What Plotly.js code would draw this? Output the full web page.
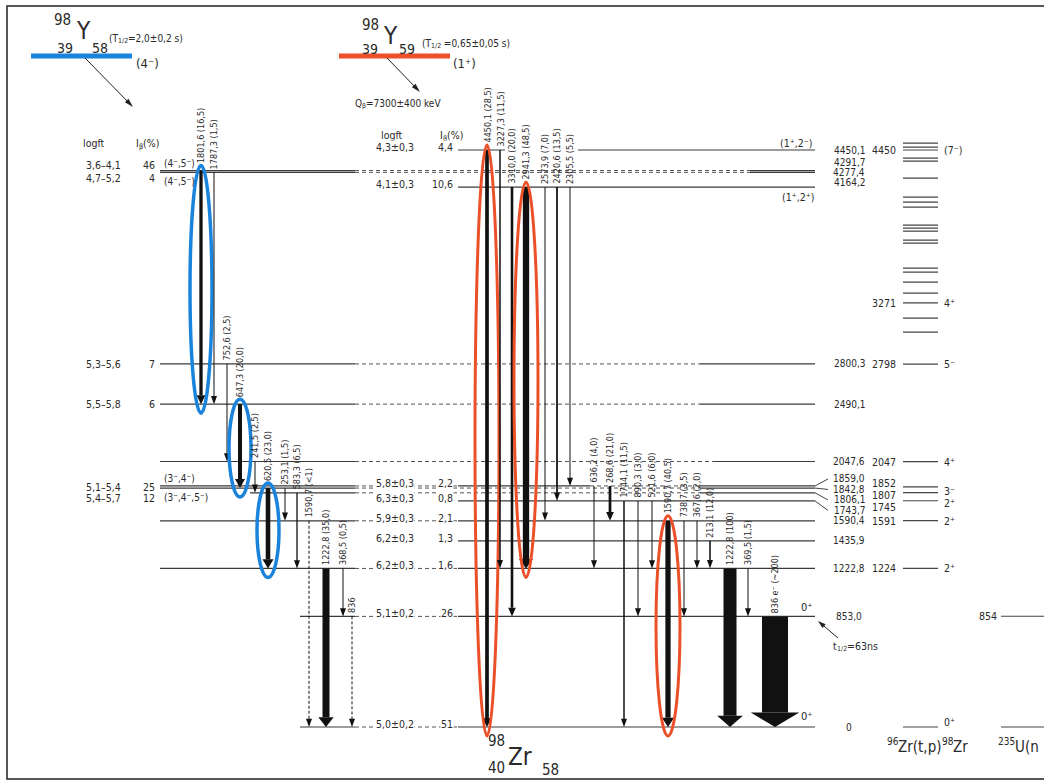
<!DOCTYPE html>
<html><head><meta charset="utf-8">
<script src="https://cdn.plot.ly/plotly-3.0.1.min.js"></script>
<style>html,body{margin:0;padding:0;background:#fff;}#chart{width:1044px;height:783px;}</style>
</head><body><div id="chart"></div>
<script>
// ================= DATA =================
// 98Zr levels (keV) and their labels
const levelEnergy = [0, 853.0, 1222.8, 1435.9, 1590.4, 1743.7, 1806.1, 1842.8, 1859.0, 2047.6, 2490.1, 2800.3, 4164.2, 4277.4, 4291.7, 4450.1];
const levelLabel  = ['0','853,0','1222,8','1435,9','1590,4','1743,7','1806,1','1842,8','1859,0','2047,6','2490,1','2800,3','4164,2','4277,4','4291,7','4450,1'];

// beta feeding from 98Y (4-), T1/2 = 2,0 s
const feed4Level = [4291.7, 4277.4, 2800.3, 2490.1, 1859.0, 1842.8];
const feed4LogFt = ['3,6–4,1','4,7–5,2','5,3–5,6','5,5–5,8','5,1–5,4','5,4–5,7'];
const feed4Ib    = ['46','4','7','6','25','12'];

// beta feeding from 98Y (1+), T1/2 = 0,65 s
const feed1Level = [4450.1, 4164.2, 1859.0, 1743.7, 1590.4, 1435.9, 1222.8, 853.0, 0];
const feed1LogFt = ['4,3±0,3','4,1±0,3','5,8±0,3','6,3±0,3','5,9±0,3','6,2±0,3','6,2±0,3','5,1±0,2','5,0±0,2'];
const feed1Ib    = ['4,4','10,6','2,2','0,8','2,1','1,3','1,6','26','51'];

// gamma transitions following 98Y (4-) decay
const g4Energy = ['1801,6','1787,3','752,6','647,3','241,5','620,5','253,1','583,3','1590,7','1222,8','368,5','836'];
const g4IntTxt = ['(16,5)','(1,5)','(2,5)','(20,0)','(2,5)','(23,0)','(1,5)','(6,5)','(<1)','(35,0)','(0,5)',''];
const g4Int    = [16.5, 1.5, 2.5, 20.0, 2.5, 23.0, 1.5, 6.5, 0.5, 35.0, 0.5, 0.5];
const g4From   = [4291.7, 4277.4, 2800.3, 2490.1, 2047.6, 1842.8, 1842.8, 1806.1, 1590.4, 1222.8, 1222.8, 853.0];
const g4To     = [2490.1, 2490.1, 2047.6, 1842.8, 1806.1, 1222.8, 1590.4, 1222.8, 0, 0, 853.0, 0];
const g4Tentative = [0,0,0,0,0,0,0,0,1,0,0,1];

// gamma transitions following 98Y (1+) decay
const g1Energy = ['4450,1','3227,3','3310,0','2941,3','2573,9','2420,6','2305,5','636,2','268,6','1744,1','890,3','521,6','1590,7','738,7','367,6','213,1','1222,8','369,5','836 e⁻'];
const g1IntTxt = ['(28,5)','(11,5)','(20,0)','(48,5)','(7,0)','(13,5)','(5,5)','(4,0)','(21,0)','(11,5)','(3,0)','(6,0)','(40,5)','(3,5)','(2,0)','(12,0)','(100)','(1,5)','(~200)'];
const g1Int    = [28.5, 11.5, 20.0, 48.5, 7.0, 13.5, 5.5, 4.0, 21.0, 11.5, 3.0, 6.0, 40.5, 3.5, 2.0, 12.0, 100, 1.5, 200];
const g1From   = [4450.1, 4450.1, 4164.2, 4164.2, 4164.2, 4164.2, 4164.2, 1859.0, 1859.0, 1743.7, 1743.7, 1743.7, 1590.4, 1590.4, 1590.4, 1435.9, 1222.8, 1222.8, 853.0];
const g1To     = [0, 1222.8, 853.0, 1222.8, 1590.4, 1743.7, 1859.0, 1222.8, 1590.4, 0, 853.0, 1222.8, 0, 853.0, 1222.8, 1222.8, 0, 853.0, 0];

// highlighted transitions
const blueMarked = ['1801,6','647,3','620,5'];
const redMarked  = ['4450,1','2941,3','1590,7'];

// 96Zr(t,p)98Zr levels
const tpEnergy = [0, 1224, 1591, 1745, 1807, 1852, 2047, 2798, 3045, 3153, 3271, 3346, 3431, 3508, 3539, 3732, 3755, 3824, 3847, 3870, 4009, 4048, 4086, 4233, 4364, 4387, 4450, 4472, 4503];
const tpLabel  = ['', '1224', '1591', '1745', '1807', '1852', '2047', '2798', '', '', '3271', '', '', '', '', '', '', '', '', '', '', '', '', '', '', '', '4450', '', ''];
const tpSpin   = ['0⁺', '2⁺', '2⁺', '', '2⁺', '3⁻', '4⁺', '5⁻', '', '', '4⁺', '', '', '', '', '', '', '', '', '', '', '', '', '', '', '', '(7⁻)', '', ''];
// 235U(n,f) column
const unfEnergy = [0, 854];
const unfLabel  = ['', '854'];

// ================= LAYOUT HELPERS =================
const K = 0.12966, Y0PX = 727;           // drawing scale: px per keV, pixel row of ground state
const eOf = px => (Y0PX - px) / K;         // pixel row -> energy
const dE  = px => px / K;                  // pixel distance -> energy span
const pyOf = e => Y0PX - e * K;            // energy -> pixel row
const FAM = 'DejaVu Sans Condensed';
const FONT = FAM + ', Liberation Sans Narrow, sans-serif';
const INK = '#2a2a2a';

// level line segments [x0, x1, solid?] aligned with levelEnergy
const levelSegs = [
  [[300,355,1],[355,458,0],[458,815,1]],
  [[300,355,1],[355,458,0],[458,815,1]],
  [[160,355,1],[355,458,0],[458,815,1]],
  [[458,815,1]],
  [[160,355,1],[355,458,0],[458,815,1]],
  [[458,815,1]],
  [[250,355,1],[355,700,0],[700,815,1]],
  [[160,355,1],[355,700,0],[700,815,1]],
  [[160,355,1],[355,458,0],[458,590,1],[590,700,0],[700,815,1]],
  [[160,355,1],[355,715,0],[715,815,1]],
  [[160,355,1],[355,700,0],[700,815,1]],
  [[160,355,1],[355,700,0],[700,815,1]],
  [[458,815,1]],
  [[160,355,1],[355,750,0],[750,815,1]],
  [[160,355,1],[355,750,0],[750,815,1]],
  [[458,505,1],[578,815,1]]
];
const g4X = [201,214,227,240,255,268,285,297,309,326,343,352];
const g1X = [487,500,512,526,545,557,570,594,610,624,638,652,668,684,697,710,730,748,775];

const shapes = [], annotations = [];
function txt(x, yE, text, o = {}) {
  const size = o.size || 11;
  annotations.push(Object.assign({
    x, y: yE, xref: 'x', yref: 'y', text, showarrow: false,
    xanchor: 'left', yanchor: 'middle', borderpad: 0
  }, o, {font: {family: FONT, size, color: o.color || INK}}));
}
const cv = document.createElement('canvas').getContext('2d');
function tw(t, size) { cv.font = size + 'px "' + FAM + '"'; return cv.measureText(t).width; }
// multi-part text (for sub/superscripts), py = pixel row of baseline part centre
function rich(x, py, parts) {
  let cx = x;
  parts.forEach(p => { txt(cx, eOf(py + (p.dy || 0)), p.t, {size: p.size}); cx += tw(p.t, p.size) + (p.gap || 0); });
}
// straight arrow in pixel space
function arrowPx(x0, py0, x1, py1, w = 1, hl = 8, hw = 5) {
  const L = Math.hypot(x1 - x0, py1 - py0), ux = (x1 - x0) / L, uy = (py1 - py0) / L;
  const bx = x1 - ux * hl, by = py1 - uy * hl;
  shapes.push({type: 'line', xref: 'x', yref: 'y', x0, x1: bx + ux * 2, y0: eOf(py0), y1: eOf(by + uy * 2), line: {color: '#222', width: w}});
  const px = -uy * hw / 2, pyy = ux * hw / 2;
  shapes.push({type: 'path', xref: 'x', yref: 'y', fillcolor: '#222', line: {width: 0},
    path: `M ${x1},${eOf(py1)} L ${bx + px},${eOf(by + pyy)} L ${bx - px},${eOf(by - pyy)} Z`});
}

// ---------- level lines (traces) ----------
const solidX = [], solidY = [], dashX = [], dashY = [];
levelEnergy.forEach((e, i) => {
  levelSegs[i].forEach(([a, b, s]) => {
    const X = s ? solidX : dashX, Y = s ? solidY : dashY;
    X.push(a, b, null); Y.push(e, e, null);
  });
});
const tpX = [], tpY = [];
tpEnergy.forEach(e => { tpX.push(903, 938, null); tpY.push(e, e, null); });
const unX = [], unY = [];
unfEnergy.forEach(e => { unX.push(1001, 1044, null); unY.push(e, e, null); });

const traces = [
  {x: solidX, y: solidY, mode: 'lines', line: {color: '#3a3a3a', width: 1.2}, hoverinfo: 'skip'},
  {x: dashX, y: dashY, mode: 'lines', line: {color: '#555', width: 1, dash: '4px,3px'}, hoverinfo: 'skip'},
  {x: tpX, y: tpY, mode: 'lines', line: {color: '#444', width: 1.2}, hoverinfo: 'skip'},
  {x: unX, y: unY, mode: 'lines', line: {color: '#444', width: 1.2}, hoverinfo: 'skip'}
];

// ---------- level labels ----------
const clusters = [
  {members: [4291.7, 4277.4, 4164.2], off: -8, gap: 10, fan: false},
  {members: [1859.0, 1842.8, 1806.1, 1743.7], off: -7, gap: 10.5, fan: true}
];
levelEnergy.forEach((e, i) => {
  let py = pyOf(e), fan = false;
  clusters.forEach(c => {
    const k = c.members.indexOf(e);
    if (k >= 0) { py = pyOf(c.members[0]) + c.off + c.gap * k; fan = c.fan; }
  });
  txt(849, eOf(py), levelLabel[i], {xanchor: 'center', size: 10});
  if (fan) shapes.push({type: 'line', xref: 'x', yref: 'y', x0: 815, x1: 828, y0: e, y1: eOf(py), line: {color: '#444', width: 1}});
});

// ---------- beta feeding labels ----------
txt(82, eOf(143), 'logft', {size: 10.5});
rich(135, 143, [{t: 'I', size: 10.5}, {t: 'β', size: 7.5, dy: 3}, {t: '(%)', size: 10.5}]);
const f4Off = {4291.7: -5.5, 4277.4: 5.5, 1859.0: 1, 1842.8: 10};
feed4Level.forEach((e, i) => {
  const py = pyOf(e) + (f4Off[e] || 0);
  txt(122, eOf(py), feed4LogFt[i], {xanchor: 'right', size: 10.5});
  txt(156, eOf(py), feed4Ib[i], {xanchor: 'right', size: 10.5});
});
txt(380, eOf(135), 'logft', {size: 10.5});
rich(439, 135, [{t: 'I', size: 10.5}, {t: 'β', size: 7.5, dy: 3}, {t: '(%)', size: 10.5}]);
feed1Level.forEach((e, i) => {
  const py = pyOf(e) - 3;
  txt(415, eOf(py), feed1LogFt[i], {xanchor: 'right', size: 10.5, bgcolor: '#fff'});
  txt(454, eOf(py), feed1Ib[i], {xanchor: 'right', size: 10.5, bgcolor: '#fff'});
});

// spin labels
txt(163, eOf(pyOf(4291.7) - 7), '(4⁻,5⁻)', {size: 10});
txt(163, eOf(pyOf(4277.4) + 9), '(4⁻,5⁻)', {size: 10});
txt(163, eOf(pyOf(1859.0) - 7), '(3⁻,4⁻)', {size: 10});
txt(163, eOf(pyOf(1842.8) + 9), '(3⁻,4⁻,5⁻)', {size: 10});
txt(813, eOf(pyOf(4450.1) - 7), '(1⁺,2⁻)', {xanchor: 'right', size: 10.5});
txt(815, eOf(pyOf(4164.2) + 10), '(1⁺,2⁺)', {xanchor: 'right', size: 10.5});
txt(800, eOf(pyOf(853.0) - 9), '0⁺', {size: 11});
txt(800, eOf(pyOf(0) - 11), '0⁺', {size: 11});

// ---------- gamma transitions ----------
function drawGammas(xs, energies, itxt, ints, from, to, scale, tentative, marked, mcolor, rx, mw) {
  xs.forEach((x, i) => {
    const w = Math.max(1, ints[i] * scale);
    const hw = Math.max(6, 1.75 * w + 3), hh = 8 + 0.25 * w;
    const dash = tentative && tentative[i] ? '3px,2px' : 'solid';
    const yEnd = to[i] + dE(w > 2 ? hh : hh * 0.6);
    const isMarked = marked.indexOf(energies[i]) >= 0;
    shapes.push({type: 'line', xref: 'x', yref: 'y', x0: x, x1: x, y0: from[i], y1: yEnd,
      line: {color: '#111', width: w, dash}});
    shapes.push({type: 'path', xref: 'x', yref: 'y',
      path: `M ${x - hw / 2},${to[i] + dE(hh)} L ${x + hw / 2},${to[i] + dE(hh)} L ${x},${to[i]} Z`,
      fillcolor: '#111', line: {width: 0}});
    const label = energies[i] + (itxt[i] ? ' ' + itxt[i] : '');
    annotations.push({x, y: from[i], xref: 'x', yref: 'y', text: label, showarrow: false,
      textangle: -90, xanchor: 'center', yanchor: 'bottom', yshift: isMarked ? 6 : 2, borderpad: 0,
      font: {family: FONT, size: 9, color: INK}});
    if (isMarked) {
      shapes.push({type: 'circle', xref: 'x', yref: 'y', x0: x - rx, x1: x + rx,
        y0: to[i] - dE(9), y1: from[i] + dE(5), line: {color: mcolor, width: mw}, layer: 'above'});
    }
  });
}
drawGammas(g4X, g4Energy, g4IntTxt, g4Int, g4From, g4To, 0.2, g4Tentative, blueMarked, '#1a84dc', 11, 3.5);
drawGammas(g1X, g1Energy, g1IntTxt, g1Int, g1From, g1To, 0.13, null, redMarked, '#eb5028', 12, 3);

// ---------- (t,p) and 235U labels ----------
const tpLabOff = {1852: -4, 1807: 8 - (pyOf(1807) - pyOf(1852)), 1745: 20 - (pyOf(1745) - pyOf(1852))};
const tpSpinOff = {1852: 4, 1807: 16 - (pyOf(1807) - pyOf(1852)), 0: -5};
tpEnergy.forEach((e, i) => {
  const py = pyOf(e) + (tpLabOff[e] || 0);
  if (tpLabel[i]) txt(897, eOf(py), tpLabel[i], {xanchor: 'right', size: 10.5});
  const sy = pyOf(e) + (tpSpinOff[e] || 0);
  if (tpSpin[i]) txt(943, eOf(sy), tpSpin[i], {size: 10.5});
});
unfEnergy.forEach((e, i) => { if (unfLabel[i]) txt(998, e, unfLabel[i], {xanchor: 'right', size: 10.5}); });
rich(886, 747, [{t: '96', size: 10, dy: -6}, {t: 'Zr(t,p)', size: 15}, {t: '98', size: 10, dy: -6}, {t: 'Zr', size: 15}]);
rich(997, 747, [{t: '235', size: 10, dy: -6}, {t: 'U(n', size: 15}]);

// ---------- parents ----------
shapes.push({type: 'line', xref: 'x', yref: 'y', x0: 31, x1: 132, y0: eOf(56), y1: eOf(56), line: {color: '#1a84dc', width: 5}});
shapes.push({type: 'line', xref: 'x', yref: 'y', x0: 339, x1: 450, y0: eOf(56), y1: eOf(56), line: {color: '#eb5028', width: 5}});
txt(53, eOf(20), '98', {size: 15});
txt(75, eOf(31), 'Y', {size: 24});
txt(56, eOf(48), '39', {size: 14});
txt(91, eOf(48), '58', {size: 14});
rich(108, 38, [{t: '(T', size: 10}, {t: '1/2', size: 7, dy: 3}, {t: '=2,0±0,2 s)', size: 10}]);
txt(135, eOf(63), '(4⁻)', {size: 13});
txt(361, eOf(25), '98', {size: 15});
txt(382, eOf(36), 'Y', {size: 24});
txt(361, eOf(49), '39', {size: 14});
txt(398, eOf(49), '59', {size: 14});
rich(421, 43, [{t: '(T', size: 10}, {t: '1/2', size: 7, dy: 3}, {t: ' =0,65±0,05 s)', size: 10}]);
txt(452, eOf(63), '(1⁺)', {size: 13});
rich(354, 103, [{t: 'Q', size: 10}, {t: 'β', size: 7, dy: 3}, {t: '=7300±400 keV', size: 10}]);
arrowPx(85, 58, 133, 107, 1, 9, 5);
arrowPx(387, 58, 420, 92, 1, 9, 5);
// t1/2 of 0+ level
arrowPx(838, 638, 818, 621, 1, 8, 5);
rich(832, 646, [{t: 't', size: 10.5}, {t: '1/2', size: 7, dy: 3}, {t: '=63ns', size: 10.5}]);

// daughter
txt(487, eOf(741), '98', {size: 15});
txt(507, eOf(757), 'Zr', {size: 24});
txt(487, eOf(768), '40', {size: 15});
txt(541, eOf(770), '58', {size: 15});

// frame
shapes.push({type: 'rect', xref: 'x', yref: 'y', x0: 7, x1: 1080, y0: eOf(6), y1: eOf(779),
  line: {color: '#222', width: 1.5}, layer: 'below'});

const layout = {
  width: 1044, height: 783,
  margin: {l: 0, r: 0, t: 0, b: 0, pad: 0},
  paper_bgcolor: '#fff', plot_bgcolor: '#fff', showlegend: false,
  xaxis: {range: [0, 1044], visible: false, fixedrange: true},
  yaxis: {range: [eOf(783), eOf(0)], visible: false, fixedrange: true},
  shapes, annotations
};
Plotly.newPlot('chart', traces, layout, {staticPlot: true});
</script>
</body></html>
